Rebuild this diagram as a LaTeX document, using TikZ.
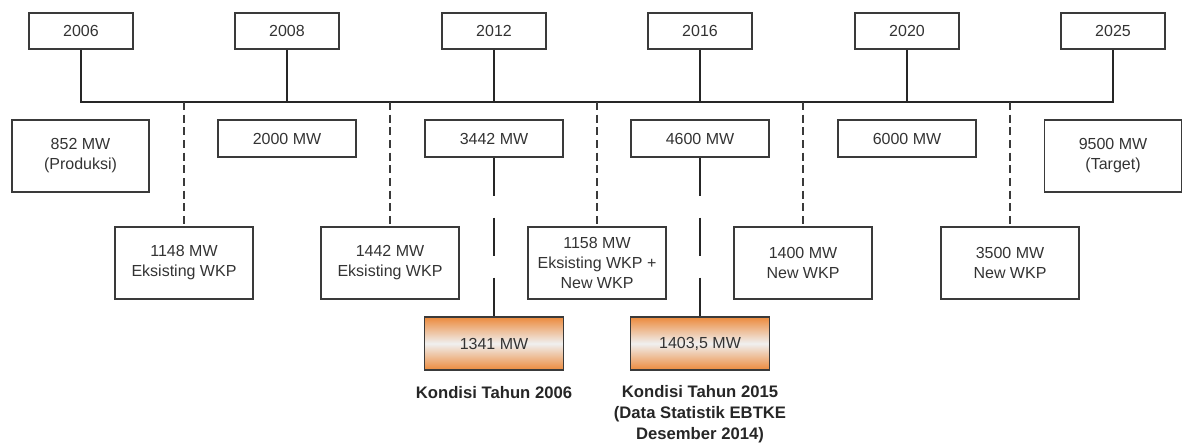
\documentclass[tikz,border=0pt]{standalone}
\usepackage{fontspec}
\setmainfont{Liberation Sans}
\usetikzlibrary{positioning, calc}
\definecolor{tlLine}{HTML}{3A3A3A}
\definecolor{tlText}{HTML}{333333}
\definecolor{tlOrange}{HTML}{EC8A3C}

\begin{document}
\begin{tikzpicture}[
  x=0.75pt, y=-0.75pt,
  box/.style={draw=tlLine, line width=1pt, inner sep=0pt, align=center, text=tlText,
    font=\fontsize{12}{15}\selectfont, minimum width=103.5pt, minimum height=27.75pt},
  yearbox/.style={box, minimum width=78pt, minimum height=27pt},
  tallbox/.style={box, minimum height=54pt},
  hotbox/.style={box, minimum width=104.25pt, minimum height=39.75pt, top color=tlOrange,
    bottom color=tlOrange, middle color=white!88!gray},
  bus/.style={line width=1.3pt, black!85},
  link/.style={line width=1pt, tlLine, dash pattern=on 6pt off 3.5pt},
  jump/.style={line width=1.3pt, black!85, dash pattern=on 28.5pt off 16.5pt},
  lab/.style={font=\bfseries\fontsize{12.5}{15.8}\selectfont, align=center, text=black!85}
]
\useasboundingbox (0,0) rectangle (1184,444);

% years
\node[yearbox] (y2006) at (81,31) {2006};
\node[yearbox] (y2008) at (287,31) {2008};
\node[yearbox] (y2012) at (494,31) {2012};
\node[yearbox] (y2016) at (700,31) {2016};
\node[yearbox] (y2020) at (907,31) {2020};
\node[yearbox] (y2025) at (1113,31) {2025};
\coordinate (axis) at (0,102);

% capacity per year
\node[tallbox, minimum width=102.75pt] (prod) at (80.5,156) {852 MW\\(Produksi)};
\node[box] (c2008) at (287,138.5) {2000 MW};
\node[box] (c2012) at (494,138.5) {3442 MW};
\node[box] (c2016) at (700,138.5) {4600 MW};
\node[box] (c2020) at (907,138.5) {6000 MW};
\node[tallbox, minimum width=102.75pt] (target) at (1113,156) {9500 MW\\(Target)};

% additions between years
\node[tallbox] (a1) at (184,263) {1148 MW\\Eksisting WKP};
\node[tallbox] (a2) at (390,263) {1442 MW\\Eksisting WKP};
\node[tallbox] (a3) at (597,263) {1158 MW\\Eksisting WKP +\\New WKP};
\node[tallbox] (a4) at (803,263) {1400 MW\\New WKP};
\node[tallbox] (a5) at (1010,263) {3500 MW\\New WKP};

% actual condition
\node[hotbox] (k2006) at (494,343.5) {1341 MW};
\node[hotbox] (k2015) at (700,343.5) {1403,5 MW};
\node[lab, below=8.5pt of k2006] (l2006) {Kondisi Tahun 2006};
\node[lab, below=7.5pt of k2015] (l2015) {Kondisi Tahun 2015\\(Data Statistik EBTKE\\Desember 2014)};

\draw[bus] (y2006.south) -- (y2006.south |- axis) -- (y2025.south |- axis) -- (y2025.south);
\draw[bus] (y2008.south) -- (y2008.south |- axis);
\draw[bus] (y2012.south) -- (y2012.south |- axis);
\draw[bus] (y2016.south) -- (y2016.south |- axis);
\draw[bus] (y2020.south) -- (y2020.south |- axis);

\draw[link] (a1.north |- axis) -- (a1.north);
\draw[link] (a2.north |- axis) -- (a2.north);
\draw[link] (a3.north |- axis) -- (a3.north);
\draw[link] (a4.north |- axis) -- (a4.north);
\draw[link] (a5.north |- axis) -- (a5.north);

\draw[jump] (c2012.south) -- (k2006.north);
\draw[jump] (c2016.south) -- (k2015.north);
\end{tikzpicture}
\end{document}
